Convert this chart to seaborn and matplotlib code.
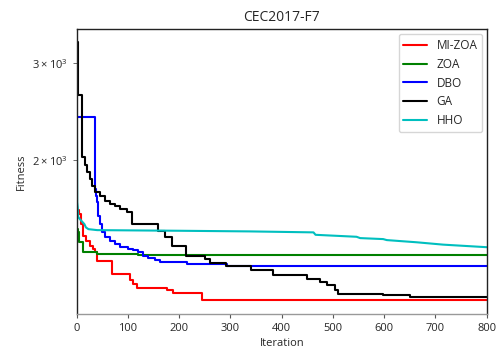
import matplotlib
matplotlib.use("Agg")
import matplotlib.pyplot as plt
import pandas as pd
import seaborn as sns

# convergence curves, stored as (iteration, best fitness) breakpoints
MI_ZOA_ITER = [0, 4, 8, 13, 19, 26, 32, 36, 39, 68, 104, 110, 118, 176, 188, 244, 309, 800]
MI_ZOA_VAL = [1620, 1595, 1530, 1458, 1428, 1398, 1379, 1362, 1313, 1243, 1212, 1192, 1172, 1159, 1148, 1115, 1112, 1112]

ZOA_ITER = [0, 2, 5, 13, 39, 120, 800]
ZOA_VAL = [1500, 1480, 1420, 1360, 1350, 1345, 1345]

DBO_ITER = [0, 36, 38, 40, 42, 45, 49, 55, 65, 75, 84, 100, 110, 120, 129, 139, 153, 163, 215, 293, 800]
DBO_VAL = [2396, 1770, 1721, 1677, 1584, 1530, 1480, 1450, 1428, 1408, 1389, 1379, 1372, 1360, 1338, 1330, 1315, 1305, 1296, 1286, 1286]

GA_ITER = [0, 2, 10, 17, 20, 26, 29, 36, 45, 55, 65, 75, 84, 98, 108, 159, 172, 186, 213, 250, 260, 291, 340,
           383, 449, 475, 488, 504, 510, 598, 650, 800]
GA_VAL = [3283, 2629, 2023, 1960, 1901, 1850, 1795, 1748, 1720, 1684, 1663, 1649, 1629, 1608, 1530, 1488, 1450,
          1398, 1341, 1323, 1301, 1286, 1260, 1234, 1217, 1202, 1184, 1159, 1143, 1135, 1128, 1128]

HHO_ITER = [0, 1, 2, 3, 6, 15, 18, 23, 40, 200, 338, 462, 466, 546, 553, 598, 605, 663, 715, 800]
HHO_VAL = [3275, 1677, 1643, 1576, 1563, 1530, 1509, 1498, 1492, 1488, 1484, 1478, 1463, 1451, 1443, 1437, 1431,
           1418, 1404, 1389]

SERIES = [
    ("MI-ZOA", MI_ZOA_ITER, MI_ZOA_VAL, "red", "steps-post"),
    ("ZOA", ZOA_ITER, ZOA_VAL, "green", "steps-post"),
    ("DBO", DBO_ITER, DBO_VAL, "blue", "steps-post"),
    ("GA", GA_ITER, GA_VAL, "black", "steps-post"),
    ("HHO", HHO_ITER, HHO_VAL, "c", "default"),
]


def main():
    sns.set_style("white")
    plt.rcParams["font.family"] = ["Open Sans", "DejaVu Sans"]

    fig = plt.figure(figsize=(4.99, 3.49), dpi=100)
    ax = fig.add_axes([0.1537, 0.1003, 0.8217, 0.8157])

    for name, iters, vals, color, style in SERIES:
        df = pd.DataFrame({"Iteration": iters, "Fitness": vals})
        sns.lineplot(data=df, x="Iteration", y="Fitness", ax=ax, color=color, label=name,
                     drawstyle=style, linewidth=1.5, estimator=None, sort=False)

    ax.set_yscale("log")
    ax.set_xlim(0, 800)
    ax.set_ylim(1050, 3460)
    ax.set_xticks(range(0, 801, 100))
    ax.tick_params(axis="both", which="both", labelsize=8, color="#555555", left=True, bottom=True)
    ax.tick_params(axis="both", which="major", length=3)
    ax.tick_params(axis="y", which="minor", length=3)

    for side in ["left", "top", "right"]:
        ax.spines[side].set_color("#222222")
    ax.spines["bottom"].set_color("#999999")
    for spine in ax.spines.values():
        spine.set_linewidth(1.0)

    ax.set_title("CEC2017-F7", fontsize=10, pad=6)
    ax.set_xlabel("Iteration", fontsize=8, labelpad=3)
    ax.set_ylabel("Fitness", fontsize=8, labelpad=4)
    ax.legend(loc="upper right", fontsize=8.5, frameon=True, framealpha=0.8, edgecolor="#cccccc",
              fancybox=True, handlelength=2.0, borderaxespad=0.4)

    fig.savefig("out.png", dpi=100)
    plt.close(fig)


if __name__ == "__main__":
    main()
